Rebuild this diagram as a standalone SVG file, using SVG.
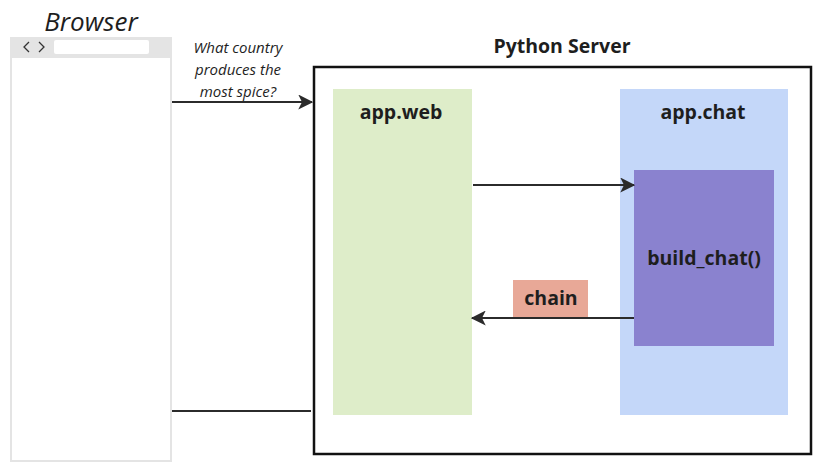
<svg xmlns="http://www.w3.org/2000/svg" width="821" height="470" viewBox="0 0 821 470">
<style>
text{font-family:"Open Sans","Noto Sans",sans-serif;fill:#1e1e1e}
.b{font-weight:700;font-size:19.5px;text-anchor:middle}
.i{font-style:italic;font-size:15px;text-anchor:middle}
.c{stroke:#2b2b2b;stroke-width:2.2;fill:none}
</style>
<defs>
<marker id="a" viewBox="0 0 12 12" refX="11" refY="6" markerWidth="15" markerHeight="15" orient="auto" markerUnits="userSpaceOnUse">
<path d="M0,0 L12,6 L0,12 L3,6 Z" fill="#2b2b2b"/>
</marker>
</defs>
<rect width="821" height="470" fill="#fff"/>
<g id="browser">
<text x="91" y="31" font-style="italic" text-anchor="middle" style="font-size:26px">Browser</text>
<rect x="11" y="38" width="160" height="423" fill="#fff" stroke="#e4e4e4" stroke-width="2"/>
<rect x="11" y="38" width="160" height="20" fill="#e4e4e4"/>
<path d="M29,42 L24,47 L29,52 M39,42 L44,47 L39,52" stroke="#333" stroke-width="1.3" fill="none"/>
<rect x="54" y="40" width="95" height="14" rx="2" fill="#fff"/>
</g>
<g id="server">
<text class="b" x="562" y="53">Python Server</text>
<rect x="314" y="67" width="497" height="387" fill="none" stroke="#111" stroke-width="2.5"/>
</g>
<g id="app-web">
<rect x="333" y="89" width="139" height="326" fill="#deedc9"/>
<text class="b" x="401" y="119">app.web</text>
</g>
<g id="app-chat">
<rect x="620" y="89" width="168" height="326" fill="#c4d7f9"/>
<text class="b" x="703" y="119">app.chat</text>
</g>
<g id="build-chat">
<rect x="634" y="170" width="140" height="176" fill="#8a82cf"/>
<text class="b" x="704" y="265">build_chat()</text>
</g>
<g id="connectors">
<line class="c" x1="172" y1="102" x2="312" y2="102" marker-end="url(#a)"/>
<line class="c" x1="473" y1="185" x2="634" y2="185" marker-end="url(#a)"/>
<line class="c" x1="634" y1="318" x2="472" y2="318" marker-end="url(#a)"/>
<line class="c" x1="172" y1="411" x2="311" y2="411"/>
</g>
<g id="question">
<text class="i" x="238" y="53">What country</text>
<text class="i" x="238" y="75">produces the</text>
<text class="i" x="238" y="97">most spice?</text>
</g>
<g id="chain">
<rect x="513" y="280" width="75" height="37" fill="#e8a897"/>
<text class="b" x="551" y="305">chain</text>
</g>
</svg>
